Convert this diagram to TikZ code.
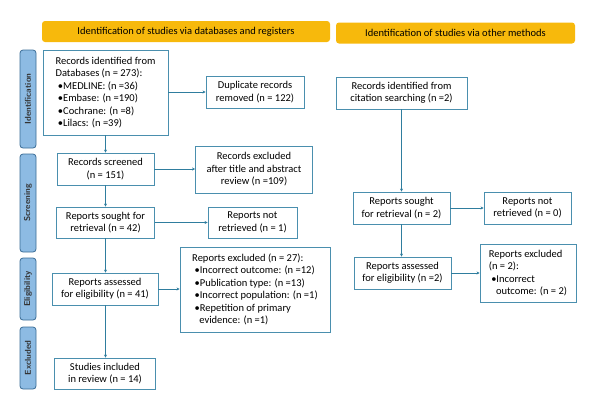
\documentclass[tikz,border=0pt]{standalone}
\usepackage{fontspec}
\setmainfont{Carlito}
\usetikzlibrary{arrows.meta}
\definecolor{boxc}{HTML}{4A8FAE}
\definecolor{arrc}{HTML}{2F7D9E}
\definecolor{headc}{HTML}{F7B90C}
\definecolor{barc}{HTML}{8DBBE3}
\definecolor{bard}{HTML}{3A6C96}
\tikzset{
  box/.style={draw=boxc, line width=0.9pt, fill=white, align=center, inner sep=1pt, font=\fontsize{10.5}{12.5}\selectfont},
  head/.style={fill=headc, rounded corners=3pt, font=\fontsize{10.5}{12}\selectfont},
  phase/.style={draw=bard, fill=barc, line width=0.8pt, rounded corners=3pt, rotate=90, font=\sffamily\bfseries\fontsize{8.5}{10}\selectfont, text=black!80},
  arr/.style={draw=arrc, line width=0.8pt, -{Stealth[length=3pt,width=3pt]}}
}
\begin{document}
\begin{tikzpicture}[x=1pt,y=-1pt]
\useasboundingbox (0,0) rectangle (611,418);
% headers
\node[head, minimum width=288pt, minimum height=21pt] (hleft) at (186,31.5) {Identification of studies via databases and registers};
\node[head, minimum width=239pt, minimum height=21pt] (hright) at (455.5,33) {Identification of studies via other methods};
% phase bars
\node[phase, minimum width=98pt, minimum height=16pt] (pid) at (28,99) {Identification};
\node[phase, minimum width=98pt, minimum height=16pt] (pscr) at (28,203) {Screening};
\node[phase, minimum width=62pt, minimum height=16pt] (pelig) at (28,289) {Eligibility};
\node[phase, minimum width=62pt, minimum height=16pt] (pexcl) at (28,358) {Excluded};
% databases column
\node[box, minimum width=125pt, minimum height=85pt, align=left] (ident) at (105.5,92.5)
  {Records identified from\\Databases (n = 273):\\\ \textbullet MEDLINE: (n =36)\\\ \textbullet Embase: (n =190)\\\ \textbullet Cochrane: (n =8)\\\ \textbullet Lilacs: (n =39)};
\node[box, minimum width=98pt, minimum height=32pt] (dup) at (255,92) {Duplicate records\\removed (n = 122)};
\node[box, minimum width=97pt, minimum height=32pt] (screen) at (105.5,169) {Records screened\\(n = 151)};
\node[box, minimum width=117pt, minimum height=47pt] (recexcl) at (254,169.5) {Records excluded\\after title and abstract\\review (n =109)};
\node[box, minimum width=98pt, minimum height=31pt] (soughtL) at (105.5,222.5) {Reports sought for\\retrieval (n = 42)};
\node[box, minimum width=89pt, minimum height=31pt] (notretL) at (252.5,222.5) {Reports not\\retrieved (n = 1)};
\node[box, minimum width=106pt, minimum height=32pt] (assessL) at (105,289) {Reports assessed\\for eligibility (n = 41)};
\node[box, minimum width=150pt, minimum height=85pt, align=left] (exclL) at (255,289.5)
  {Reports excluded (n = 27):\\\ \textbullet Incorrect outcome: (n =12)\\\ \textbullet Publication type: (n =13)\\\ \textbullet Incorrect population: (n =1)\\\ \textbullet Repetition of primary\\\ \ \ evidence: (n =1)};
\node[box, minimum width=101pt, minimum height=31pt] (incl) at (105,373.5) {Studies included\\in review (n = 14)};
% other methods column
\node[box, minimum width=131pt, minimum height=32pt] (cite) at (401.5,93) {Records identified from\\citation searching (n =2)};
\node[box, minimum width=97pt, minimum height=32pt] (soughtR) at (401.5,208) {Reports sought\\for retrieval (n = 2)};
\node[box, minimum width=87pt, minimum height=32pt] (notretR) at (527.5,208) {Reports not\\retrieved (n = 0)};
\node[box, minimum width=97pt, minimum height=32pt] (assessR) at (402.5,273) {Reports assessed\\for eligibility (n =2)};
\node[box, minimum width=96pt, minimum height=58pt, align=left] (exclR) at (528,273)
  {Reports excluded\\(n = 2):\\\ \textbullet Incorrect\\\ \ \ outcome: (n = 2)};
% connectors
\draw[arr] (ident.south) -- (screen.north);
\draw[arr] (screen.south) -- (soughtL.north);
\draw[arr] (soughtL.south) -- (assessL.north -| soughtL.south);
\draw[arr] (assessL.south -| soughtL.south) -- (incl.north -| soughtL.south);
\draw[arr] (ident.east |- dup.west) -- (dup.west);
\draw[arr] (screen.east) -- (recexcl.west |- screen.east);
\draw[arr] (soughtL.east) -- (notretL.west);
\draw[arr] (assessL.east) -- (exclL.west |- assessL.east);
\draw[arr] (cite.south) -- (soughtR.north);
\draw[arr] (soughtR.south) -- (assessR.north -| soughtR.south);
\draw[arr] (soughtR.east) -- (notretR.west);
\draw[arr] (assessR.east) -- (exclR.west |- assessR.east);
\end{tikzpicture}
\end{document}
